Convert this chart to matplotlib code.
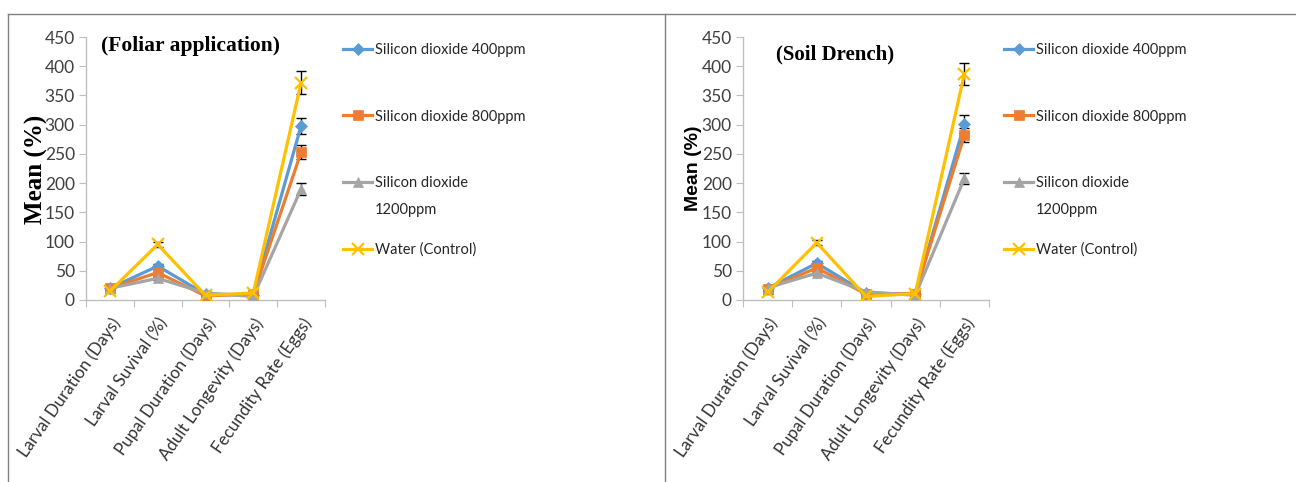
import matplotlib
matplotlib.use("Agg")
import matplotlib.pyplot as plt
from matplotlib.lines import Line2D
import numpy as np

categories = ["Larval Duration (Days)", "Larval Suvival (%)", "Pupal Duration (Days)",
              "Adult Longevity (Days)", "Fecundity Rate (Eggs)"]
series_names = ["Silicon dioxide 400ppm", "Silicon dioxide 800ppm",
                "Silicon dioxide 1200ppm", "Water (Control)"]

# Foliar application
foliar_400 = [20, 58, 10, 9, 298]
foliar_800 = [20, 47, 7, 10, 253]
foliar_1200 = [20, 37, 12, 6, 190]
foliar_water = [15, 95, 8, 12, 372]
foliar_err_400 = [3, 4, 2, 2, 14]
foliar_err_800 = [3, 4, 2, 2, 12]
foliar_err_1200 = [3, 3, 2, 2, 10]
foliar_err_water = [3, 4, 2, 2, 20]

# Soil drench
soil_400 = [20, 63, 12, 10, 301]
soil_800 = [19, 55, 10, 11, 282]
soil_1200 = [21, 46, 14, 8, 208]
soil_water = [13, 98, 6, 11, 387]
soil_err_400 = [3, 4, 2, 2, 15]
soil_err_800 = [3, 4, 2, 2, 12]
soil_err_1200 = [3, 3, 2, 2, 10]
soil_err_water = [3, 4, 2, 2, 19]

yticks = [0, 50, 100, 150, 200, 250, 300, 350, 400, 450]

colors = ["#5B9BD5", "#ED7D31", "#A5A5A5", "#FFC000"]
markers = ["D", "s", "^", "x"]
msizes = [6.5, 7.5, 7.5, 9]

plt.rcParams['font.family'] = ['Lato', 'DejaVu Sans']

W, H = 1296, 482
fig = plt.figure(figsize=(W / 100, H / 100), dpi=100)

def fx(px):
    return px / W

def fy(py):
    return 1 - py / H

# panel border lines
for seg in [((8, 14), (1296, 14)), ((8, 14), (8, 482)), ((665, 14), (665, 482))]:
    (x0, y0), (x1, y1) = seg
    fig.add_artist(Line2D([fx(x0), fx(x1)], [fy(y0), fy(y1)], color="#808080", lw=1.0))

grid = "#BFBFBF"


def panel(left_px, right_px, vals, errs, title, title_xy, title_fs, ylabel_kw, ylabel_xy, leg_x):
    ax = fig.add_axes([fx(left_px), fy(300), fx(right_px) - fx(left_px), fy(37) - fy(300)])
    x = np.arange(len(categories))
    handles = []
    for v, e, c, m, ms in zip(vals, errs, colors, markers, msizes):
        ax.errorbar(x, v, yerr=e, fmt="none", ecolor="black", elinewidth=1, capsize=3.5, capthick=1, zorder=3)
        mew = 1.6 if m == "x" else 0.5
        h, = ax.plot(x, v, color=c, lw=2.3, marker=m, markersize=ms, markeredgewidth=mew,
                     markeredgecolor=c, zorder=4)
        handles.append(h)
    ax.set_xlim(-0.5, len(categories) - 0.5)
    ax.set_ylim(0, 450)
    ax.set_yticks(yticks)
    ax.set_yticklabels([str(t) for t in yticks], fontsize=12.5, color="#404040")
    ax.set_xticks(np.arange(-0.5, len(categories), 1.0))
    ax.set_xticklabels([])
    ax.set_xticks(x, minor=True)
    ax.set_xticklabels(categories, minor=True, rotation=55, ha="right", va="top",
                       rotation_mode="anchor", fontsize=12.2, color="#333333")
    ax.tick_params(axis="x", which="minor", length=0, pad=11)
    ax.tick_params(axis="x", which="major", length=5, color=grid, direction="out")
    ax.tick_params(axis="y", length=5, color=grid, direction="out", pad=3)
    for s in ["top", "right"]:
        ax.spines[s].set_visible(False)
    for s in ["left", "bottom"]:
        ax.spines[s].set_color(grid)
        ax.spines[s].set_linewidth(1.0)
    ax.set_facecolor("none")
    fig.text(fx(title_xy[0]), fy(title_xy[1]), title, ha="center", va="center",
             fontsize=title_fs, fontweight="bold", family="Liberation Serif")
    fig.text(fx(ylabel_xy[0]), fy(ylabel_xy[1]), "Mean (%)", ha="center", va="center",
             rotation=90, **ylabel_kw)
    labels = ["Silicon dioxide 400ppm", "Silicon dioxide 800ppm", "Silicon dioxide", "Water (Control)"]
    leg = ax.legend(handles, labels, loc="upper left",
                    bbox_to_anchor=(fx(leg_x), fy(leg_top)), bbox_transform=fig.transFigure,
                    frameon=False, fontsize=10.5, handlelength=2.0, handletextpad=0.2,
                    labelspacing=3.6, borderpad=0, borderaxespad=0)
    for t in leg.get_texts():
        t.set_color("#262626")
    fig.text(fx(leg_x + 32), fy(210), "1200ppm", ha="left", va="center", fontsize=10.5, color="#262626")
    return ax


leg_top = 43

panel(86, 325, [foliar_400, foliar_800, foliar_1200, foliar_water],
      [foliar_err_400, foliar_err_800, foliar_err_1200, foliar_err_water],
      "(Foliar application)", (191, 46), 15.5,
      dict(fontsize=18, fontweight="bold", family="Liberation Serif"), (36, 169), 343)

panel(743, 989, [soil_400, soil_800, soil_1200, soil_water],
      [soil_err_400, soil_err_800, soil_err_1200, soil_err_water],
      "(Soil Drench)", (835, 54), 15,
      dict(fontsize=14, fontweight="bold", family=["Liberation Sans", "DejaVu Sans"]), (693, 168), 1004)

fig.savefig("out.png", dpi=100, facecolor="white")
